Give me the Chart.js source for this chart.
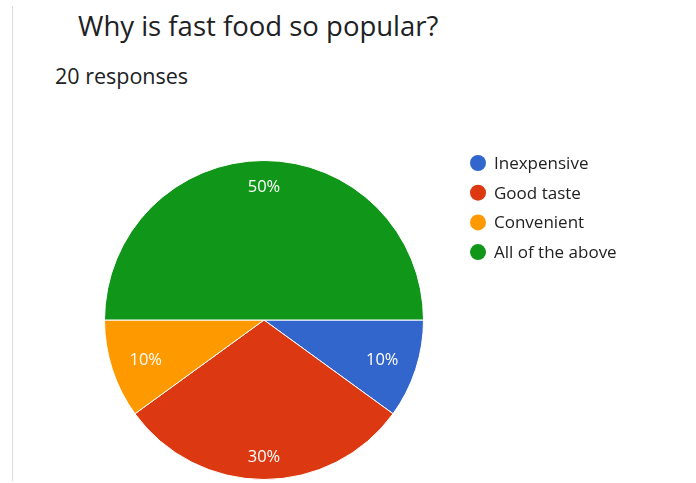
<!DOCTYPE html>
<html>
<head>
<meta charset="utf-8">
<script src="https://cdn.jsdelivr.net/npm/chart.js@4/dist/chart.umd.min.js"></script>
<style>
  html, body { margin: 0; padding: 0; background: #fff; }
  #wrap { position: relative; width: 696px; height: 483px; overflow: hidden; }
  #frame { position: absolute; left: 12px; top: 6px; bottom: 2px; width: 0; border-left: 1px solid #dadce0; }
  #title { position: absolute; left: 78px; top: 7px; font: 27.5px "Open Sans", sans-serif; color: #202124; white-space: nowrap; }
  #sub { position: absolute; left: 55px; top: 61px; font: 21.5px "Open Sans", sans-serif; color: #202124; white-space: nowrap; }
  canvas { position: absolute; left: 0; top: 0; }
</style>
</head>
<body>
<div id="wrap">
  <div id="frame"></div>
  <div id="title">Why is fast food so popular?</div>
  <div id="sub">20 responses</div>
  <canvas id="pie" width="696" height="483"></canvas>
</div>
<script>
const labels = ["Inexpensive", "Good taste", "Convenient", "All of the above"];
const counts = [2, 6, 2, 10];
const colors = ["#3366cc", "#dc3912", "#ff9900", "#109618"];

const total = counts.reduce((a, b) => a + b, 0);

// percentage text inside each slice
const sliceLabels = {
  id: "sliceLabels",
  afterDatasetsDraw(chart) {
    const ctx = chart.ctx;
    const meta = chart.getDatasetMeta(0);
    ctx.save();
    ctx.font = "16.5px 'Open Sans', sans-serif";
    ctx.fillStyle = "#fff";
    ctx.textAlign = "center";
    ctx.textBaseline = "middle";
    meta.data.forEach((arc, i) => {
      const p = arc.getProps(["x", "y", "startAngle", "endAngle", "outerRadius"], true);
      const mid = (p.startAngle + p.endAngle) / 2;
      const txt = Math.round(counts[i] / total * 100) + "%";
      const hw = ctx.measureText(txt).width / 2, hh = 7;
      const c = Math.cos(mid), s = Math.sin(mid);
      const d = p.outerRadius * 0.89 - (Math.abs(c) * hw + Math.abs(s) * hh);
      ctx.fillText(txt, p.x + c * d, p.y + s * d + 2);
    });
    ctx.restore();
  }
};

// legend on the right, drawn from the data
const sideLegend = {
  id: "sideLegend",
  afterDraw(chart) {
    const ctx = chart.ctx;
    ctx.save();
    ctx.font = "17px 'Open Sans', sans-serif";
    ctx.textBaseline = "middle";
    labels.forEach((lab, i) => {
      const y = 163 + i * 29.7;
      ctx.fillStyle = colors[i];
      ctx.beginPath();
      ctx.arc(478, y, 8, 0, Math.PI * 2);
      ctx.fill();
      ctx.fillStyle = "#222";
      ctx.fillText(lab, 494, y + 1);
    });
    ctx.restore();
  }
};

new Chart(document.getElementById("pie"), {
  type: "pie",
  data: {
    labels: labels,
    datasets: [{
      data: counts,
      backgroundColor: colors,
      borderColor: "#fff",
      borderWidth: 1,
      hoverOffset: 0
    }]
  },
  options: {
    responsive: false,
    animation: false,
    rotation: 90,
    layout: { padding: { left: 104, right: 272, top: 160, bottom: 3 } },
    plugins: {
      legend: { display: false },
      tooltip: { enabled: false }
    }
  },
  plugins: [sliceLabels, sideLegend]
});
</script>
</body>
</html>
